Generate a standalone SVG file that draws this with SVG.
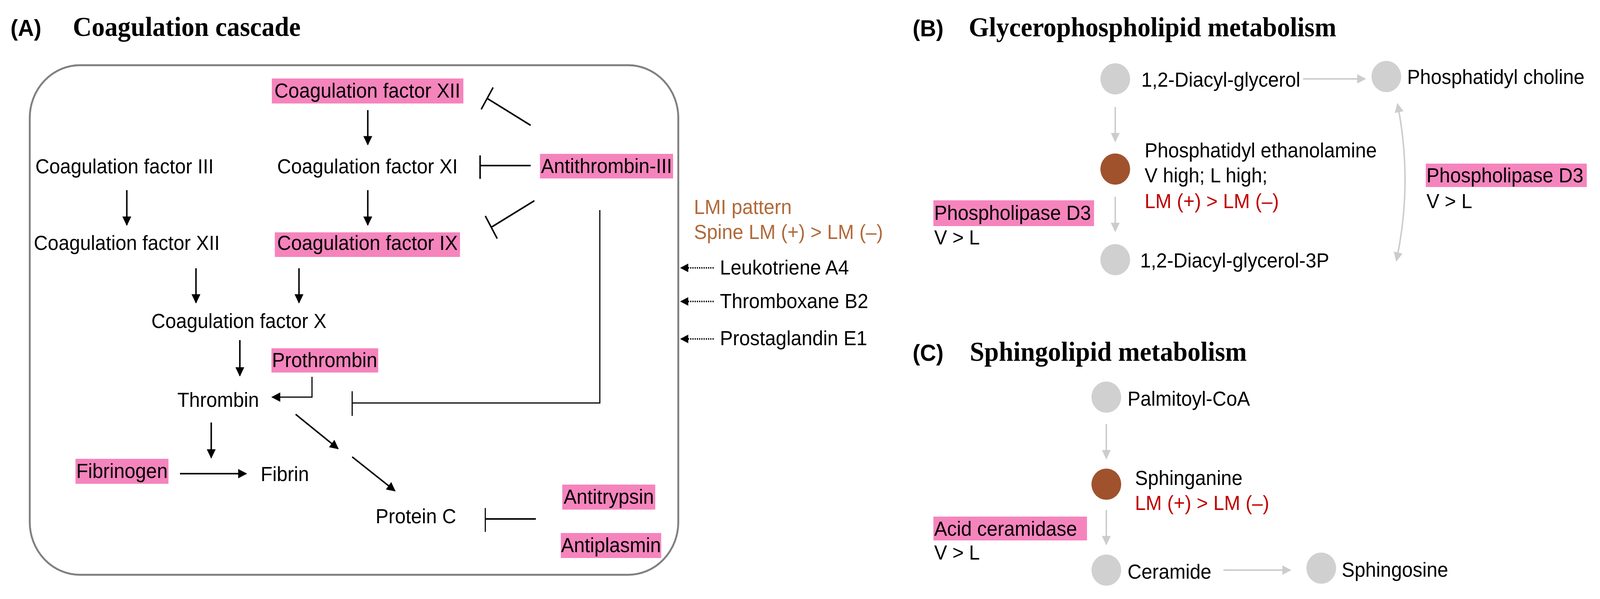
<svg xmlns="http://www.w3.org/2000/svg" width="4296" height="1534" viewBox="0 0 4296 1534">
<defs>
<marker id="ah" viewBox="0 0 10 10" refX="9" refY="5" markerWidth="24" markerHeight="22" markerUnits="userSpaceOnUse" orient="auto"><path d="M0,0 L10,5 L0,10 z" fill="#000"/></marker>
<marker id="ahb" viewBox="0 0 10 10" refX="9" refY="5" markerWidth="28" markerHeight="24" markerUnits="userSpaceOnUse" orient="auto"><path d="M0,0 L10,5 L0,10 z" fill="#000"/></marker>
<marker id="ag" viewBox="0 0 10 10" refX="9" refY="5" markerWidth="28" markerHeight="24" markerUnits="userSpaceOnUse" orient="auto"><path d="M0,0 L10,5 L0,10 z" fill="#cccccc"/></marker>
<marker id="ags" viewBox="0 0 10 10" refX="1" refY="5" markerWidth="28" markerHeight="24" markerUnits="userSpaceOnUse" orient="auto"><path d="M10,0 L0,5 L10,10 z" fill="#cccccc"/></marker>
</defs>
<style>
text{font-family:"Liberation Sans",Arial,sans-serif;font-size:52px;fill:#000}
.ttl{font-family:"Liberation Serif","Times New Roman",serif;font-weight:bold;font-size:70px}
.lab{font-weight:bold;font-size:60px}
.pk{fill:#f584bd}
.br{fill:#b06a3a}
.rd{fill:#c00000}
.blk{stroke:#000;stroke-width:4;fill:none}
.thin{stroke:#000;stroke-width:3;fill:none}
.gr{stroke:#cccccc;stroke-width:4;fill:none}
.cg{fill:#d0d0d0}
.cb{fill:#a0522d}
</style>
<rect width="4296" height="1534" fill="#fff"/>
<g transform="scale(0.952 1)">
<text x="28" y="92" class="lab">(A)</text>
<text x="196" y="92" class="ttl">Coagulation cascade</text>
<rect x="80" y="167" width="1744" height="1305" rx="135" ry="135" fill="none" stroke="#808080" stroke-width="5"/>
<g id="nodes">
<g id="fxii_top"><rect class="pk" x="731" y="201" width="515" height="64"/><text x="988" y="250" text-anchor="middle">Coagulation factor XII</text></g>
<g id="fiii"><text x="95" y="444">Coagulation factor III</text></g>
<g id="fxi"><text x="988" y="444" text-anchor="middle">Coagulation factor XI</text></g>
<g id="at3"><rect class="pk" x="1452" y="394" width="358" height="63"/><text x="1631" y="443" text-anchor="middle">Antithrombin-III</text></g>
<g id="fxii_left"><text x="91" y="640">Coagulation factor XII</text></g>
<g id="fix"><rect class="pk" x="739" y="595" width="498" height="63"/><text x="988" y="640" text-anchor="middle">Coagulation factor IX</text></g>
<g id="fx"><text x="407" y="840">Coagulation factor X</text></g>
<g id="prothrombin"><rect class="pk" x="730" y="892" width="287" height="62"/><text x="873" y="940" text-anchor="middle">Prothrombin</text></g>
<g id="thrombin"><text x="477" y="1042">Thrombin</text></g>
<g id="fibrinogen"><rect class="pk" x="203" y="1175" width="250" height="64"/><text x="328" y="1224" text-anchor="middle">Fibrinogen</text></g>
<g id="fibrin"><text x="701" y="1232">Fibrin</text></g>
<g id="proteinc"><text x="1010" y="1340">Protein C</text></g>
<g id="antitrypsin"><rect class="pk" x="1512" y="1241" width="250" height="64"/><text x="1637" y="1290" text-anchor="middle">Antitrypsin</text></g>
<g id="antiplasmin"><rect class="pk" x="1508" y="1365" width="270" height="64"/><text x="1643" y="1414" text-anchor="middle">Antiplasmin</text></g>
<g id="lmi"><text x="1866" y="548" class="br">LMI pattern</text><text x="1866" y="612" class="br">Spine LM (+) &gt; LM (–)</text></g>
<g id="lta4"><text x="1936" y="703">Leukotriene A4</text></g>
<g id="txb2"><text x="1936" y="789">Thromboxane  B2</text></g>
<g id="pge1"><text x="1936" y="884">Prostaglandin E1</text></g>

<text x="2454" y="93" class="lab">(B)</text>
<text x="2605" y="93" class="ttl">Glycerophospholipid  metabolism</text>
<g id="dag"><circle class="cg" cx="2999" cy="202" r="40"/><text x="3069" y="222">1,2-Diacyl-glycerol</text></g>
<g id="pc"><circle class="cg" cx="3728" cy="196" r="40"/><text x="3784" y="215">Phosphatidyl choline</text></g>
<g id="pe"><circle class="cb" cx="2999" cy="433" r="40"/><text x="3078" y="403">Phosphatidyl ethanolamine</text><text x="3078" y="467">V high; L high;</text><text x="3078" y="533" class="rd">LM (+) &gt; LM (–)</text></g>
<g id="dag3p"><circle class="cg" cx="2999" cy="665" r="40"/><text x="3066" y="685">1,2-Diacyl-glycerol-3P</text></g>
<g id="pld3a"><rect class="pk" x="2510" y="513" width="432" height="66"/><text x="2512" y="563">Phospholipase D3</text><text x="2512" y="626">V &gt; L</text></g>
<g id="pld3b"><rect class="pk" x="3834" y="419" width="433" height="60"/><text x="3836" y="467">Phospholipase D3</text><text x="3836" y="533">V &gt; L</text></g>

<text x="2454" y="924" class="lab">(C)</text>
<text x="2608" y="924" class="ttl">Sphingolipid metabolism</text>
<g id="palm"><circle class="cg" cx="2975" cy="1017" r="40"/><text x="3032" y="1039">Palmitoyl-CoA</text></g>
<g id="sphinganine"><circle class="cb" cx="2975" cy="1240" r="40"/><text x="3052" y="1242">Sphinganine</text><text x="3052" y="1306" class="rd">LM (+) &gt; LM (–)</text></g>
<g id="acer"><rect class="pk" x="2510" y="1323" width="413" height="61"/><text x="2512" y="1372">Acid  ceramidase</text><text x="2512" y="1433">V &gt; L</text></g>
<g id="ceramide"><circle class="cg" cx="2975" cy="1460" r="40"/><text x="3032" y="1482">Ceramide</text></g>
<g id="sphingosine"><circle class="cg" cx="3553" cy="1455" r="40"/><text x="3608" y="1477">Sphingosine</text></g>
</g>
<g id="connectors">
<line class="blk" x1="989" y1="282" x2="989" y2="370" marker-end="url(#ahb)"/>
<line class="blk" x1="989" y1="487" x2="989" y2="576" marker-end="url(#ahb)"/>
<line class="blk" x1="341" y1="487" x2="341" y2="576" marker-end="url(#ahb)"/>
<line class="blk" x1="527" y1="687" x2="527" y2="775" marker-end="url(#ahb)"/>
<line class="blk" x1="804" y1="687" x2="804" y2="775" marker-end="url(#ahb)"/>
<line class="blk" x1="645" y1="871" x2="645" y2="962" marker-end="url(#ahb)"/>
<line class="blk" x1="568" y1="1082" x2="568" y2="1172" marker-end="url(#ahb)"/>
<line class="blk" x1="484" y1="1213" x2="662" y2="1213" stroke-width="6" marker-end="url(#ahb)"/>
<line class="blk" x1="795" y1="1061" x2="909" y2="1149" marker-end="url(#ahb)"/>
<line class="blk" x1="947" y1="1170" x2="1062" y2="1257" marker-end="url(#ahb)"/>
<polyline class="thin" points="839,965 839,1017 732,1017" marker-end="url(#ahb)"/>
<line class="blk" x1="1427" y1="321" x2="1310" y2="252"/><line class="blk" x1="1326" y1="224" x2="1294" y2="280"/>
<line class="blk" x1="1427" y1="424" x2="1291" y2="424"/><line class="blk" x1="1291" y1="398" x2="1291" y2="458"/>
<line class="blk" x1="1437" y1="514" x2="1321" y2="582"/><line class="blk" x1="1305" y1="553" x2="1337" y2="611"/>
<polyline class="thin" points="1613,538 1613,1032 947,1032"/><line class="thin" x1="947" y1="1002" x2="947" y2="1065"/>
<line class="blk" x1="1441" y1="1329" x2="1305" y2="1329"/><line class="thin" x1="1305" y1="1301" x2="1305" y2="1362"/>
<line x1="1919" y1="686" x2="1831" y2="686" stroke="#000" stroke-width="4" stroke-dasharray="3,3" marker-end="url(#ah)"/>
<line x1="1919" y1="772" x2="1831" y2="772" stroke="#000" stroke-width="4" stroke-dasharray="3,3" marker-end="url(#ah)"/>
<line x1="1919" y1="868" x2="1831" y2="868" stroke="#000" stroke-width="4" stroke-dasharray="3,3" marker-end="url(#ah)"/>
<line class="gr" x1="3504" y1="202" x2="3671" y2="202" marker-end="url(#ag)"/>
<line class="gr" x1="2999" y1="274" x2="2999" y2="362" marker-end="url(#ag)"/>
<line class="gr" x1="2999" y1="504" x2="2999" y2="592" marker-end="url(#ag)"/>
<path class="gr" d="M3758,266 Q3800,467 3755,668" marker-start="url(#ags)" marker-end="url(#ag)"/>
<line class="gr" x1="2975" y1="1086" x2="2975" y2="1174" marker-end="url(#ag)"/>
<line class="gr" x1="2975" y1="1306" x2="2975" y2="1394" marker-end="url(#ag)"/>
<line class="gr" x1="3290" y1="1460" x2="3470" y2="1460" marker-end="url(#ag)"/>
</g>
</g>
</svg>
